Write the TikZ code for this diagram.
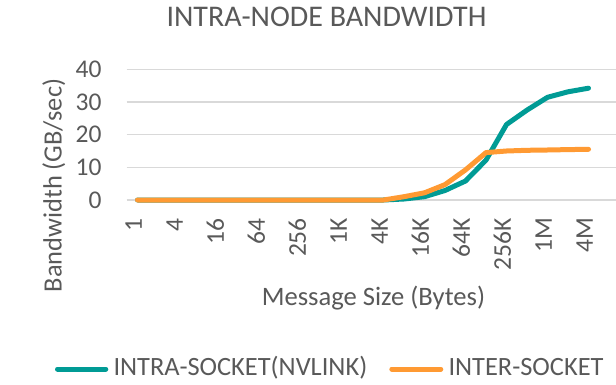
\documentclass[tikz,border=0pt]{standalone}
\usepackage{fontspec}
\setmainfont{Carlito}
\definecolor{txt}{HTML}{595959}
\definecolor{gridgray}{HTML}{D9D9D9}
\definecolor{intra}{HTML}{009B95}
\definecolor{inter}{HTML}{FF9A33}
\begin{document}
\begin{tikzpicture}[x=1pt,y=-1pt,
  lbl/.style={inner sep=0pt,text=txt,font=\fontsize{26.4}{26.4}\selectfont},
  ticklbl/.style={lbl,font=\fontsize{25.5}{25.5}\selectfont},
  series/.style={line width=5pt,line cap=round,line join=round},
  gridline/.style={draw=gridgray,line width=1.3pt}]
\useasboundingbox (0,0) rectangle (616,385);

% title
\node[lbl,font=\fontsize{30}{30}\selectfont,anchor=base] (title) at (326.5,26.7) {INTRA-NODE BANDWIDTH};

% value axis: gridlines and labels
\foreach \v in {0,10,20,30,40}{
  \draw[gridline] (126.7,{200-3.27*\v}) -- (616,{200-3.27*\v});
  \node[ticklbl,anchor=base east] (y\v) at (101.7,{200-3.27*\v+8.2}) {\v};
}
\node[lbl,rotate=90,anchor=base] (ytitle) at (61.7,185.5) {Bandwidth (GB/sec)};

% category axis labels (every second message size)
\foreach \t [count=\k from 0] in {1,4,16,64,256,1K,4K,16K,64K,256K,1M,4M}{
  \node[ticklbl,rotate=90,anchor=mid east] (x\k) at ({139.5+41*\k},218) {\t};
}
\node[lbl,font=\fontsize{26.6}{26.6}\selectfont,anchor=base] (xtitle) at (373.5,305) {Message Size (Bytes)};

% data series
\draw[series,intra] plot coordinates {(137.5,200) (383.5,200) (404,199.0) (424.5,196.7)
  (445,190.5) (465.5,181.0) (486,160.1) (506.5,124.5) (527,110.1) (547.5,97.3)
  (568,91.8) (588.5,88.2)};
\draw[series,inter] plot coordinates {(137.5,200) (383.5,200) (404,196.7) (424.5,192.8)
  (445,184.6) (465.5,169.9) (486,152.6) (506.5,151.0) (527,150.3) (547.5,150.0)
  (568,149.6) (588.5,149.3)};

% legend
\coordinate (la1) at (57.5,369);
\coordinate (la2) at (105.8,369);
\draw[series,intra] (la1) -- (la2);
\node[lbl,anchor=base west] (leg1) at (113.3,375.7) {INTRA-SOCKET(NVLINK)};
\coordinate (lb1) at (391.8,369);
\coordinate (lb2) at (440.8,369);
\draw[series,inter] (lb1) -- (lb2);
\node[lbl,anchor=base west] (leg2) at (448.3,375.7) {INTER-SOCKET};
\end{tikzpicture}
\end{document}
